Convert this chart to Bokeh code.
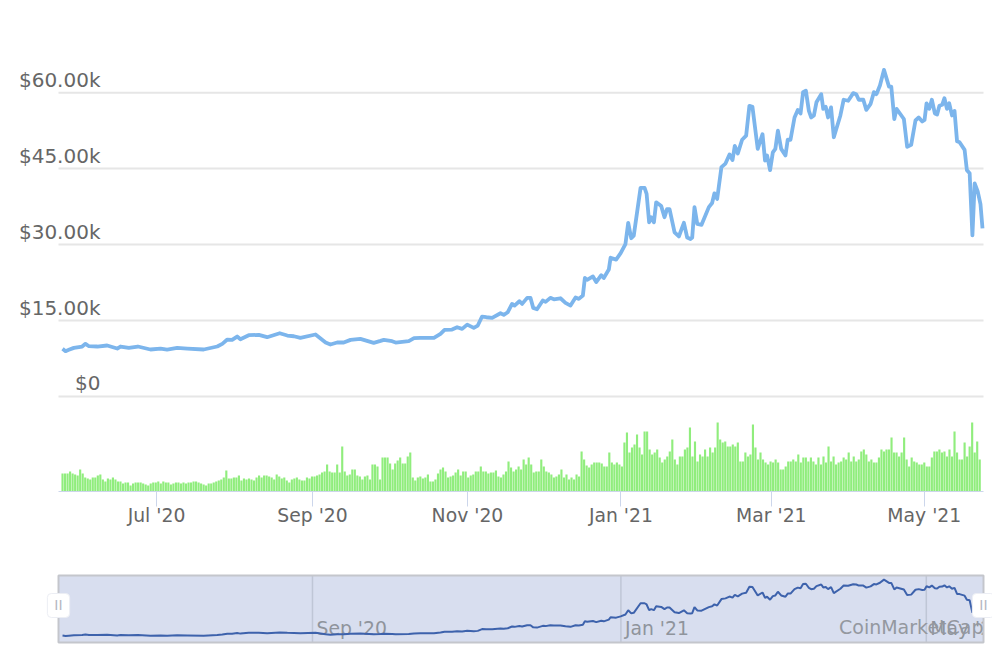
from bokeh.core.properties import value
from bokeh.embed import file_html
from bokeh.resources import INLINE
from bokeh.layouts import column
from bokeh.models import FixedTicker, Label, Range1d
from bokeh.plotting import figure

# Days since the first date shown, with the price (thousand USD) read at that day
price_day = [0, 1.2, 2.5, 4.5, 7.8, 9.1, 10.5, 13.8, 17.7, 21.7, 23, 26.3, 29.9, 34.9, 38.9, 41.5, 45.5, 49.5, 56,
             61.4, 63.4, 65.4, 67.3, 69.3, 70.6, 73.9, 77.9, 81.2, 86.2, 89.2, 91.8, 94.4, 100.4, 104.4, 106.3, 109,
             111.6, 114.3, 118.2, 123.5, 126.2, 127.5, 130.8, 132.2, 137.4, 139.5, 142, 147.4, 150, 151.6, 154.6,
             156.6, 158.6, 160.6, 163.2, 164.8, 166.5, 168.2, 170.5, 173.8, 175.1, 176.7, 178.4, 179.4, 181.3, 182.4,
             184.4, 185.7, 186.8, 188.3, 190.6, 191.7, 193.6, 195, 197.6, 199.6, 201.6, 203.6, 204.9, 206.5, 207.3,
             208.2, 210.5, 211.8, 213.8, 214.8, 216.8, 217.5, 219.7, 221.5, 223.4, 224.5, 225.7, 226.7, 229.4, 231,
             231.8, 232.8, 233.6, 234.7, 235.6, 237.6, 238.9, 239.9, 240.9, 242.9, 244.6, 246.6, 247.9, 249.2, 249.9,
             250.8, 251.9, 253.6, 256.5, 257.8, 258.7, 259.8, 261.5, 263.1, 264.7, 265.9, 266.8, 268, 269.7, 271.3,
             272.6, 273.8, 275.9, 277.8, 278.8, 279.6, 280.8, 281.9, 282.9, 283.9, 285.2, 286.9, 287.8, 288.9, 290.5,
             291.8, 292.9, 293.9, 295, 296.2, 297.1, 298.2, 299.2, 301.1, 301.9, 302.9, 303.8, 305, 306.1, 308.7, 310,
             311.8, 313.8, 315, 316, 317.8, 319, 320.7, 322, 323, 324.4, 326, 328, 328.9, 330.1, 331, 333.9, 335.2,
             336.8, 338.5, 339.8, 341.2, 342.1, 342.9, 344, 345, 346.2, 347.1, 348, 349.1, 350, 351, 351.9, 353, 354,
             355, 356, 358, 358.9, 360, 361.1, 362, 363.2, 364.3, 365.1]
price_k = [9.41, 8.95, 9.21, 9.6, 9.87, 10.4, 9.93, 9.87, 10.07, 9.47, 9.87, 9.6, 9.87, 9.28, 9.47, 9.28, 9.6, 9.47,
           9.28, 9.87, 10.4, 11.25, 11.18, 11.84, 11.31, 12.1, 12.17, 11.71, 12.5, 12.04, 11.9, 11.58, 12.24, 10.66,
           10.26, 10.66, 10.66, 11.18, 11.38, 10.6, 10.98, 11.18, 10.92, 10.66, 10.92, 11.51, 11.58, 11.58, 12.37,
           13.17, 13.22, 13.68, 13.36, 14.2, 13.56, 14.01, 15.79, 15.65, 15.53, 16.44, 16.12, 16.64, 18.29, 17.96,
           18.81, 18.29, 19.48, 19.48, 17.5, 17.23, 18.95, 18.69, 19.48, 19.2, 19.4, 18.5, 17.96, 19.54, 19.28, 19.93,
           23.4, 23.03, 23.7, 22.6, 23.95, 23.4, 25.06, 27.4, 27.04, 28.3, 30.1, 34.3, 31.25, 31.77, 41.2, 41.2, 40,
           34.4, 35.4, 34.4, 38.35, 37.6, 35.4, 37, 37, 32.4, 31.6, 34.3, 31.4, 31.1, 31.4, 37.4, 34.1, 33.9, 37.4,
           38.2, 40.1, 39, 45.3, 46, 47.8, 46.7, 49.5, 48, 50.7, 51.5, 57.4, 57.2, 48.9, 51.8, 46.6, 47.6, 44.7, 48.2,
           48.9, 52.5, 48.9, 47.6, 50.7, 50.7, 55.1, 56.6, 55.9, 60.1, 60.4, 56.4, 55.1, 55.5, 58.1, 59.7, 56.8, 57.2,
           55.1, 57.1, 51.2, 55.5, 58.6, 58.4, 59.9, 59.7, 58.6, 58.6, 56.6, 57.8, 60.1, 59.7, 61.4, 64.5, 61.2, 61.2,
           54.8, 56.8, 54.8, 49.3, 49.7, 54.5, 55.1, 54.3, 54.6, 57.9, 56.8, 58.6, 55.9, 55.7, 57.4, 57.6, 58.9, 56.8,
           57.9, 55.5, 56.4, 50.4, 50.2, 48.7, 44.7, 44.1, 31.8, 42.1, 40.5, 38, 33.2]

# One volume value per day, in relative units
volume = [18, 18, 18, 20, 18, 17, 16, 22, 18, 14, 13, 12, 14, 14, 16, 17, 12, 10, 13, 12, 14, 12, 10, 10, 8, 9, 9, 6,
          8, 9, 9, 9, 8, 7, 6, 8, 9, 9, 10, 8, 10, 9, 9, 7, 8, 9, 9, 8, 9, 8, 9, 9, 10, 10, 9, 8, 7, 6, 8, 8, 9, 10,
          11, 12, 14, 21, 13, 13, 14, 14, 16, 11, 13, 12, 13, 12, 11, 14, 16, 14, 16, 16, 15, 14, 12, 17, 15, 13, 14,
          11, 9, 12, 13, 14, 12, 11, 11, 14, 13, 15,
          15, 16, 17, 19, 20, 27, 20, 19, 19, 27, 19, 45, 20, 16, 17, 22, 22, 16, 15, 12, 15, 16, 12, 27, 27, 25, 12,
          34, 34, 34, 28, 22, 28, 31, 34, 28, 28, 35, 39, 14, 11, 14, 15, 13, 14, 17, 10, 10, 12, 18, 22, 24, 20, 14,
          15, 16, 19, 22, 16, 20, 20, 14, 16, 17, 20, 20, 25, 20, 20, 18, 19, 19, 21,
          15, 14, 17, 20, 30, 24, 20, 22, 25, 22, 32, 27, 34, 27, 19, 20, 20, 32, 25, 20, 19, 17, 14, 15, 17, 22, 14,
          17, 12, 14, 12, 17, 15,
          40, 32, 26, 24, 27, 29, 29, 29, 28, 25, 25, 39, 29, 27, 29, 27, 25, 49, 59, 39, 44, 47, 57, 44, 37, 60, 60,
          42, 37, 39, 42, 34, 29, 32, 35, 40, 52, 32, 27, 35, 35, 42, 44, 64, 35, 50, 30, 37, 35, 42, 35, 44, 39, 44,
          69, 52, 49, 50, 45, 45, 47, 45, 49, 30, 30, 39, 35, 37, 67, 44, 32, 39, 32, 29, 27, 30, 29, 32, 29, 22, 22,
          25, 30, 30, 32, 30, 37, 29, 34, 34, 30, 34, 30, 27, 34, 27, 35, 29, 45, 30, 35, 27, 29, 30, 34, 32, 39, 30,
          35, 30, 32, 40, 42, 37, 30, 32, 29, 29, 34, 42, 40, 42, 42, 54, 39, 39, 35, 39, 54, 32, 25, 34, 30, 29, 27,
          27, 29, 25, 25, 34, 40, 40, 42, 39, 40, 35, 42, 35, 60, 39, 32, 32, 49, 35, 45, 69, 39, 50, 32]

y_ticks = [0, 15, 30, 45, 60]
y_labels = ["$0", "$15.00k", "$30.00k", "$45.00k", "$60.00k"]
x_ticks = [37.3, 99.2, 160.7, 221.6, 281.3, 342]
x_labels = ["Jul '20", "Sep '20", "Nov '20", "Jan '21", "Mar '21", "May '21"]
nav_ticks = [99.2, 221.6, 342.8]
nav_labels = ["Sep '20", "Jan '21", "May '21"]

FONT = "DejaVu Sans"
D0, D1 = -1.6, 365.5          # days at the left and right edge of the plot area
PX = 925 / (D1 - D0)          # pixels per day
W = 992
n = len(y_ticks)
# all frames span the full page width so that tick texts and handles are not cut
x_range = Range1d(D0 - 58 / PX, D1 + 9 / PX)
common = dict(width=W, x_range=x_range, output_backend="svg", toolbar_location=None, min_border_left=0,
              min_border_right=0)

# price panel
p1 = figure(height=400, y_range=Range1d(-0.79, 78.2), min_border_top=0, min_border_bottom=0, **common)
p1.axis.visible = False
p1.grid.visible = False
p1.outline_line_color = None
p1.segment(x0=[D0] * n, x1=[D1] * n, y0=y_ticks, y1=y_ticks, line_color="#e6e6e6", line_width=2)
p1.line(price_day, price_k, line_color="#7cb5ec", line_width=3.8, line_join="round")
for t, lab in zip(y_ticks, y_labels):
    p1.add_layout(Label(x=100, x_units="screen", y=t, y_units="data", y_offset=13, text=lab, text_align="right",
                        text_baseline="middle", text_font=FONT, text_font_size="20px", text_color="#666666"))

# volume panel
p2 = figure(height=140, y_range=Range1d(0, 91), min_border_top=0, min_border_bottom=49, **common)
p2.vbar(x=list(range(len(volume))), top=volume, width=0.85, fill_color="#90ed7d", line_color=None)
p2.yaxis.visible = False
p2.grid.visible = False
p2.outline_line_color = None
p2.xaxis.ticker = FixedTicker(ticks=x_ticks)
p2.xaxis.bounds = (D0, D1)
p2.xaxis.major_label_overrides = dict(zip(x_ticks, x_labels))
p2.xaxis.axis_line_color = "#ccd6eb"
p2.xaxis.major_tick_line_color = "#ccd6eb"
p2.xaxis.major_tick_out = 15
p2.xaxis.major_tick_in = 0
p2.xaxis.major_label_standoff = -2
p2.xaxis.major_label_text_font = FONT
p2.xaxis.major_label_text_font_size = "18.8px"
p2.xaxis.major_label_text_font_style = "normal"
p2.xaxis.major_label_text_color = "#666666"

# navigator
NY0, NY1 = 2.56, 68.5
p3 = figure(height=110, y_range=Range1d(0.59, 70.5), min_border_top=33, min_border_bottom=6, **common)
p3.axis.visible = False
p3.grid.visible = False
p3.outline_line_color = None
p3.quad(left=[D0], right=[D1], bottom=[NY0], top=[NY1], fill_color="#d8deef", line_color=None)
p3.segment(x0=nav_ticks, x1=nav_ticks, y0=[NY0] * 3, y1=[NY1] * 3, line_color="#bfc6d6", line_width=1.5)
p3.text(x=nav_ticks, y=[16.3] * 3, text=nav_labels, x_offset=4, text_font=value(FONT),
        text_font_size="18.8px", text_baseline="middle", text_color="#8f949c")
p3.quad(left=[D1], right=[D1 + 20], bottom=[0], top=[72], fill_color="#ffffff", line_color=None)
p3.quad(left=[D0], right=[D1], bottom=[NY0], top=[NY1], fill_color=None, line_color="#c4c6cc", line_width=2)
p3.line(price_day, price_k, line_color="#3d62ac", line_width=2)
p3.add_layout(Label(x=983, x_units="screen", y=18.3, y_units="data", text="CoinMarketCap", text_align="right",
                    text_baseline="middle", text_font=FONT, text_font_size="19px", text_color="#94989f"))
for hx in (58, 983):
    p3.add_layout(Label(x=hx, x_units="screen", y=39, y_units="data", text="II", text_align="center",
                        text_baseline="middle", text_font=FONT, text_font_size="14px", text_color="#b4b8c2",
                        background_fill_color="#ffffff", background_fill_alpha=1, padding=(7, 4), border_radius=4,
                        border_line_color="#eceef4"))

page = column(p1, p2, p3, spacing=0)
open("out.html", "w").write(file_html(page, INLINE))
